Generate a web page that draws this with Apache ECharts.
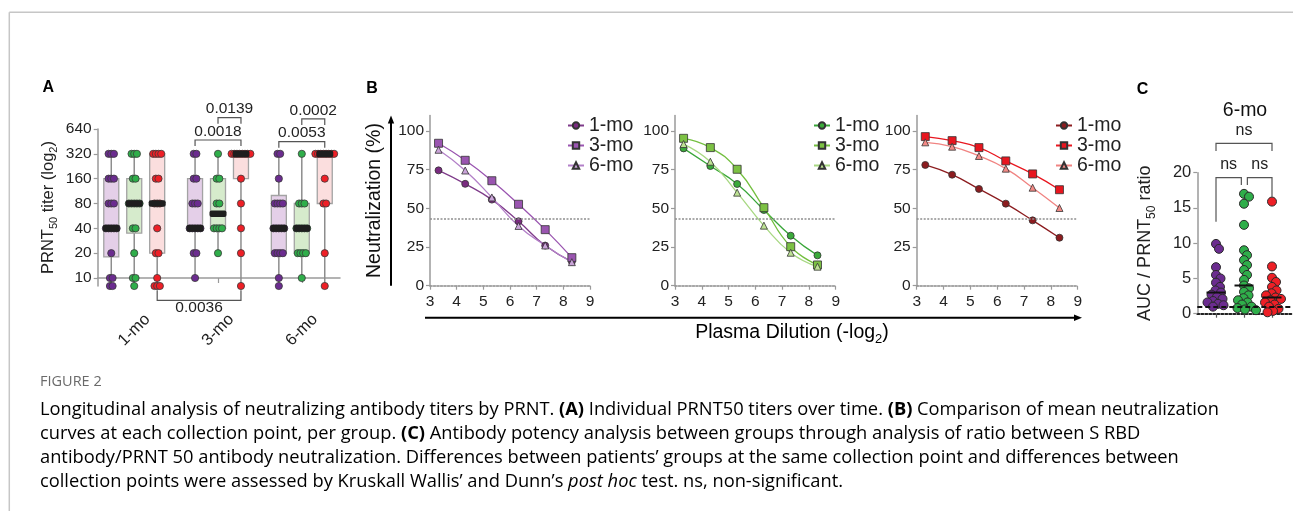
<!DOCTYPE html>
<html><head><meta charset="utf-8">
<script src="https://cdn.jsdelivr.net/npm/echarts@6/dist/echarts.min.js"></script>
<style>html,body{margin:0;padding:0;background:#fff}#c{width:1293px;height:511px}</style>
</head><body><div id="c"></div>
<script>
// ================= DATA =================
const timepoints = ['1-mo', '3-mo', '6-mo'];
const belowLimitTiter = 8;           // titers under detection, drawn on the axis
const titerTicks = [10, 20, 40, 80, 160, 320, 640];

// Panel A – individual PRNT50 titers, one array per collection point
const titersPurple = [
  [320,320,320,160,160,160,80,80,80,40,40,40,40,40,20,10,10,8,8],
  [320,320,160,160,80,80,80,40,40,40,40,40,20,20,10],
  [320,320,160,80,80,80,80,40,40,40,40,40,20,20,20,20,10,8]
];
const titersGreen = [
  [320,320,320,160,160,80,80,80,80,80,40,40,20,10,10,8],
  [320,160,160,80,80,40,40,40,40,20],
  [320,80,80,80,40,40,40,40,40,20,20,20,20,10]
];
const titersRed = [
  [320,320,320,320,160,160,80,80,80,40,20,20,10,8,8,8],
  [320,320,320,320,320,320,320,320,160,80,40,20,8],
  [320,320,320,320,320,320,320,320,160,80,80,20,8]
];
// Panel A – box statistics, order: 1-mo (P,G,R), 3-mo (P,G,R), 6-mo (P,G,R)
const whiskerMin = [8, 8, 8, 10, 20, 8, 8, 10, 8];
const boxQ1      = [18, 35, 20, 40, 40, 160, 20, 20, 80];
const boxMedian  = [40, 80, 80, 40, 60, 320, 40, 40, 320];
const boxQ3      = [160, 160, 320, 160, 160, 320, 100, 80, 320];
const whiskerMax = [320, 320, 320, 320, 320, 320, 320, 320, 320];
// Panel A – comparisons: [timepoint, group] -> [timepoint, group], p value
const compA = [[1,1,1,2], [1,0,1,2], [2,1,2,2], [2,0,2,2], [0,2,1,2]];
const pValuesA = ['0.0139', '0.0018', '0.0002', '0.0053', '0.0036'];

// Panel B – mean neutralization (%) vs plasma dilution (-log2)
const dilutions = [3.32, 4.32, 5.32, 6.32, 7.32, 8.32];
const neutPurple1 = [74.5, 65.8, 55.6, 41.6, 25.9, 15.6];
const neutPurple3 = [92.0, 81.0, 67.8, 52.6, 36.2, 18.1];
const neutPurple6 = [87.8, 74.4, 57.0, 38.6, 26.0, 15.2];
const neutGreen1  = [88.7, 77.3, 65.7, 48.9, 32.3, 19.6];
const neutGreen3  = [95.2, 89.2, 75.2, 50.4, 25.2, 13.4];
const neutGreen6  = [91.5, 80.1, 60.1, 38.8, 21.3, 12.3];
const neutRed1    = [78.0, 71.7, 62.5, 53.0, 42.2, 31.0];
const neutRed3    = [96.3, 93.7, 89.2, 80.6, 72.2, 62.0];
const neutRed6    = [92.6, 89.8, 83.8, 75.6, 63.3, 50.2];
const neutThreshold = 43.5;

// Panel C – AUC / PRNT50 ratio at 6-mo
const ratioPurple = [9.9, 9.2, 6.6, 5.5, 5.0, 4.4, 3.8, 3.3, 3.0, 2.7, 2.4, 2.1, 1.8, 1.6, 1.4, 1.2, 1.0];
const ratioGreen  = [17.0, 16.6, 15.6, 12.6, 9.0, 8.3, 7.6, 6.9, 6.2, 5.5, 4.8, 4.0, 3.6, 3.1, 2.6, 2.2, 1.9, 1.6, 1.3, 1.0, 0.8, 0.6, 0.5];
const ratioRed    = [15.9, 6.7, 5.1, 4.5, 3.8, 3.3, 2.9, 2.6, 2.3, 2.1, 1.9, 1.6, 1.3, 1.0, 0.7, 0.4, 0.2];
const ratioCutoff = 1.0;
const compC = [[0,2], [0,1], [1,2]];
const pValuesC = ['ns', 'ns', 'ns'];

// ================= STYLE / LAYOUT =================
const FONT = '"Liberation Sans", Arial, sans-serif';
const CAPFONT = '"Open Sans", Lato, sans-serif';
const dotColors = ['#6b2c8f', '#2fae4a', '#ee1f26'];
const boxFills  = ['#e4cfe8', '#d6ebcc', '#fbdede'];
const groupOffset = 0.274;     // x offset of each group inside a time point (axis units)
const rowStep = 0.032;         // spacing of tied dots (axis units)
const bracketLevelA = [6.456, 5.558, 6.404, 5.49, -0.898];
const bracketLegA   = [6, 6, 6, 6, -10];
const bracketLevelC = [24.17, 19.29, 19.29];
const bracketLegEndC = [[23.08, 23.08], [13.05, 18.26], [18.26, 16.41]];
const bracketEndAdjC = [[0, 0], [0, -0.095], [0.12, 0]];

const yA = v => Math.log2(v / 10);
const xA = (t, g) => t + 1 + (g - 1) * groupOffset;
const median = arr => { const s = [...arr].sort((a,b)=>a-b); const n=s.length; return n%2 ? s[(n-1)/2] : (s[n/2-1]+s[n/2])/2; };

function rowPoints(vals, xc) {
  const counts = {}, seen = {};
  vals.forEach(v => counts[v] = (counts[v] || 0) + 1);
  return vals.map(v => {
    const n = counts[v]; const i = (seen[v] = (seen[v] || 0) + 1) - 1;
    return [xc + (i - (n - 1) / 2) * rowStep, yA(v)];
  });
}

const chart = echarts.init(document.getElementById('c'), null, {renderer: 'canvas'});

const grids = [
  {left: 97.7, top: 129, width: 242.3, height: 157},
  {left: 430, top: 115.4, width: 160, height: 170.3},
  {left: 675, top: 115.4, width: 160.7, height: 170.3},
  {left: 916.7, top: 115.4, width: 161, height: 170.3},
  {left: 1197.3, top: 172.7, width: 95.7, height: 141}
].map(g => Object.assign({outerBoundsMode: 'none', containLabel: false}, g));

const grayAxis = {lineStyle: {color: '#9a9a9a', width: 1.5}};
const tickOut = {show: true, inside: false, length: 4, lineStyle: {color: '#9a9a9a', width: 1.2}};
const subRich = (fs) => ({
  n: {fontSize: fs, fontFamily: FONT, color: '#222', lineHeight: fs + 6},
  s: {fontSize: Math.round(fs * 0.68), fontFamily: FONT, color: '#222', verticalAlign: 'bottom', lineHeight: Math.round(fs * 0.68)}
});

const xAxes = [
  {gridIndex: 0, type: 'value', min: 0.564, max: 3.456, axisLine: grayAxis,
   axisTick: Object.assign({}, tickOut, {length: 5, customValues: [1, 2, 3]}),
   splitLine: {show: false},
   axisLabel: {customValues: [1, 2, 3], formatter: v => timepoints[Math.round(v) - 1], rotate: 45,
     align: 'center', verticalAlign: 'middle', margin: 44, fontSize: 16.5, fontFamily: FONT, color: '#222'}},
];
[1, 2, 3].forEach(i => xAxes.push({gridIndex: i, type: 'value', min: 3, max: 9, interval: 1,
  axisLine: {lineStyle: {color: '#8a8a8a', width: 1.6, type: [2, 1.5]}},
  axisTick: Object.assign({}, tickOut, {length: 4}), splitLine: {show: false},
  axisLabel: {margin: 8, fontSize: 15.5, fontFamily: FONT, color: '#222'}}));
xAxes.push({gridIndex: 4, type: 'value', min: 0.332, max: 3.75,
  axisLine: {lineStyle: {color: '#222', width: 2, type: [2, 2]}},
  axisTick: {show: true, customValues: [1, 2, 3], length: 4, lineStyle: {color: '#555', width: 1.2}},
  axisLabel: {show: false}, splitLine: {show: false}});

const yAxes = [
  {gridIndex: 0, type: 'value', min: yA(belowLimitTiter), max: 6, axisLine: Object.assign({show: true}, grayAxis),
   axisTick: Object.assign({}, tickOut, {customValues: titerTicks.map(yA)}), splitLine: {show: false},
   axisLabel: {customValues: titerTicks.map(yA), formatter: v => String(Math.round(10 * Math.pow(2, v))), margin: 6,
     fontSize: 15.5, fontFamily: FONT, color: '#222'},
   name: '{n|PRNT}{s|50}{n| titer (log}{s|2}{n|)}', nameLocation: 'middle', nameGap: 38, nameRotate: 90,
   nameTextStyle: {rich: subRich(16.5)}}
];
[1, 2, 3].forEach(i => yAxes.push({gridIndex: i, type: 'value', min: 0, max: 110,
  axisLine: Object.assign({show: true}, grayAxis),
  axisTick: Object.assign({}, tickOut, {customValues: [0, 25, 50, 75, 100]}), splitLine: {show: false},
  axisLabel: {customValues: [0, 25, 50, 75, 100], margin: 6, fontSize: 15.5, fontFamily: FONT, color: '#222'},
  name: i === 1 ? 'Neutralization (%)' : '', nameLocation: 'middle', nameGap: 45, nameRotate: 90,
  nameTextStyle: {fontSize: 19.5, fontFamily: FONT, color: '#111'}}));
yAxes.push({gridIndex: 4, type: 'value', min: 0, max: 20, interval: 5, axisLine: Object.assign({show: true}, grayAxis),
  axisTick: Object.assign({}, tickOut), splitLine: {show: false},
  axisLabel: {margin: 6, fontSize: 16.5, fontFamily: FONT, color: '#222'},
  name: '{n|AUC / PRNT}{s|50}{n| ratio}', nameLocation: 'middle', nameGap: 40, nameRotate: 90,
  nameTextStyle: {rich: subRich(18)}});

// ---------- Panel A series ----------
const series = [];
const boxData = [];
for (let t = 0; t < 3; t++) for (let g = 0; g < 3; g++) {
  const k = t * 3 + g;
  boxData.push([xA(t, g), yA(whiskerMin[k]), yA(boxQ1[k]), yA(boxMedian[k]), yA(boxQ3[k]), yA(whiskerMax[k]), g]);
}
series.push({
  type: 'custom', id: 'boxes', xAxisIndex: 0, yAxisIndex: 0, z: 1, silent: true, data: boxData,
  renderItem(params, api) {
    const x = api.value(0), g = api.value(6);
    const lo = api.coord([x, api.value(1)]), q1 = api.coord([x, api.value(2)]);
    const q3 = api.coord([x, api.value(4)]), hi = api.coord([x, api.value(5)]);
    const bw = 15;
    return {type: 'group', children: [
      {type: 'line', shape: {x1: lo[0], y1: lo[1], x2: hi[0], y2: hi[1]}, style: {stroke: '#8d8d8d', lineWidth: 1.5}},
      {type: 'rect', shape: {x: q3[0] - bw / 2, y: q3[1], width: bw, height: Math.max(q1[1] - q3[1], 0)},
       style: {fill: boxFills[g], stroke: '#a3a3a3', lineWidth: 1.3}}
    ]};
  }
});
[titersPurple, titersGreen, titersRed].forEach((arr, g) => {
  const pts = [];
  arr.forEach((vals, t) => rowPoints(vals, xA(t, g)).forEach(p => pts.push(p)));
  series.push({type: 'scatter', xAxisIndex: 0, yAxisIndex: 0, z: 3, clip: false, silent: true,
    symbolSize: 7.2, data: pts, itemStyle: {color: dotColors[g], borderColor: '#3a3a3a', borderWidth: 0.8, opacity: 1}});
});
series.push({
  type: 'custom', xAxisIndex: 0, yAxisIndex: 0, z: 4, silent: true,
  data: boxData.map(d => [d[0], d[3]]),
  renderItem(params, api) {
    const p = api.coord([api.value(0), api.value(1)]);
    return {type: 'rect', shape: {x: p[0] - 8.5, y: p[1] - 3.3, width: 17, height: 6.6, r: 2}, style: {fill: '#1e1e1e'}};
  }
});
series.push({
  type: 'custom', xAxisIndex: 0, yAxisIndex: 0, z: 5, silent: true, clip: false,
  data: compA.map((c, i) => [xA(c[0], c[1]), xA(c[2], c[3]), bracketLevelA[i], bracketLegA[i]]),
  renderItem(params, api) {
    const a = api.coord([api.value(0), api.value(2)]), b = api.coord([api.value(1), api.value(2)]);
    const leg = api.value(3), above = leg > 0;
    return {type: 'group', children: [
      {type: 'polyline', shape: {points: [[a[0], a[1] + leg], [a[0], a[1]], [b[0], b[1]], [b[0], b[1] + leg]]},
       style: {stroke: '#555', lineWidth: 1.2, fill: null}},
      {type: 'text', style: {text: pValuesA[params.dataIndex], x: (a[0] + b[0]) / 2, y: above ? a[1] - 8.5 : a[1] + 7.5,
        align: 'center', verticalAlign: 'middle', fontSize: 15.5, fontFamily: FONT, fill: '#222'}}
    ]};
  }
});

// ---------- Panel B series ----------
function bLine(gi, name, vals, symbol, size, fill, line) {
  return {type: 'line', name: 'B' + gi + '|' + name, xAxisIndex: gi, yAxisIndex: gi, z: 3,
    data: dilutions.map((d, i) => [d, vals[i]]), smooth: 0.5,
    symbol, symbolSize: size, showAllSymbol: true,
    itemStyle: {color: fill, borderColor: '#333', borderWidth: 0.8},
    lineStyle: {color: line, width: 1.3}, emphasis: {disabled: true}};
}
const thr = gi => ({type: 'line', xAxisIndex: gi, yAxisIndex: gi, data: [], silent: true,
  markLine: {silent: true, symbol: 'none', label: {show: false}, animation: false,
    lineStyle: {color: '#8f8f8f', type: [2, 1.5], width: 1.5}, data: [{yAxis: neutThreshold}]}});
series.push(thr(1), thr(2), thr(3));
series.push(
  bLine(1, '1-mo', neutPurple1, 'circle', 7, '#7a2b80', '#7f3b8a'),
  bLine(1, '3-mo', neutPurple3, 'rect', 8, '#9a55b0', '#9a55b0'),
  bLine(1, '6-mo', neutPurple6, 'triangle', 7, '#c9a3d8', '#b380c8'),
  bLine(2, '1-mo', neutGreen1, 'circle', 7, '#3aaa3a', '#39a639'),
  bLine(2, '3-mo', neutGreen3, 'rect', 8, '#7cc143', '#73bf3f'),
  bLine(2, '6-mo', neutGreen6, 'triangle', 7, '#bde293', '#a8d883'),
  bLine(3, '1-mo', neutRed1, 'circle', 7, '#8c1c1f', '#8c1c1f'),
  bLine(3, '3-mo', neutRed3, 'rect', 8, '#e8161f', '#e8161f'),
  bLine(3, '6-mo', neutRed6, 'triangle', 7, '#f38a86', '#f08482')
);

// ---------- Panel C series ----------
const ratios = [ratioPurple, ratioGreen, ratioRed];
ratios.forEach((vals, g) => series.push({type: 'scatter', id: 'swarm' + g, xAxisIndex: 4, yAxisIndex: 4, z: 3,
  clip: false, silent: true, symbolSize: 9, data: vals.map(v => [g + 1, v]),
  itemStyle: {color: dotColors[g], borderColor: '#2a2a2a', borderWidth: 1, opacity: 1}}));
series.push({type: 'custom', xAxisIndex: 4, yAxisIndex: 4, z: 4, silent: true,
  data: ratios.map((vals, g) => [g + 1, median(vals)]),
  renderItem(params, api) {
    const p = api.coord([api.value(0), api.value(1)]);
    return {type: 'line', shape: {x1: p[0] - 9.5, y1: p[1], x2: p[0] + 9.5, y2: p[1]}, style: {stroke: '#111', lineWidth: 2}};
  }});
series.push({type: 'line', xAxisIndex: 4, yAxisIndex: 4, data: [], silent: true,
  markLine: {silent: true, symbol: 'none', label: {show: false}, animation: false,
    lineStyle: {color: '#111', type: [5, 3], width: 2}, data: [{yAxis: ratioCutoff}]}});
series.push({type: 'custom', xAxisIndex: 4, yAxisIndex: 4, z: 5, silent: true, clip: false,
  data: compC.map((c, i) => [c[0] + 1 + bracketEndAdjC[i][0], c[1] + 1 + bracketEndAdjC[i][1], bracketLevelC[i], bracketLegEndC[i][0], bracketLegEndC[i][1]]),
  renderItem(params, api) {
    const a = api.coord([api.value(0), api.value(2)]), b = api.coord([api.value(1), api.value(2)]);
    const la = api.coord([api.value(0), api.value(3)]), lb = api.coord([api.value(1), api.value(4)]);
    return {type: 'group', children: [
      {type: 'polyline', shape: {points: [[la[0], la[1]], [a[0], a[1]], [b[0], b[1]], [lb[0], lb[1]]]},
       style: {stroke: '#555', lineWidth: 1.2, fill: null}},
      {type: 'text', style: {text: pValuesC[params.dataIndex], x: (a[0] + b[0]) / 2, y: a[1] - 13,
        align: 'center', verticalAlign: 'middle', fontSize: 16, fontFamily: FONT, fill: '#222'}}
    ]};
  }});

// ---------- legends ----------
const legend = [[1, 567], [2, 813], [3, 1055]].map(([gi, left]) => ({
  left, top: 115.5, padding: 0, orient: 'vertical', itemGap: 0, itemWidth: 16, itemHeight: 8,
  data: ['1-mo', '3-mo', '6-mo'].map(n => 'B' + gi + '|' + n),
  formatter: n => n.split('|')[1], selectedMode: false,
  textStyle: {fontSize: 19.5, fontFamily: FONT, color: '#222'}
}));

// ---------- decorations & text ----------
const capRich = {
  n: {fontSize: 18.3, fontFamily: CAPFONT, color: '#727272'},
  b: {fontSize: 18.3, fontFamily: CAPFONT, color: '#727272', fontWeight: 'bold'},
  i: {fontSize: 18.3, fontFamily: CAPFONT, color: '#727272', fontStyle: 'italic'}
};
const captionLines = [
  '{n|Longitudinal analysis of neutralizing antibody titers by PRNT. }{b|(A)}{n| Individual PRNT50 titers over time. }{b|(B)}{n| Comparison of mean neutralization}',
  '{n|curves at each collection point, per group. }{b|(C)}{n| Antibody potency analysis between groups through analysis of ratio between S RBD}',
  '{n|antibody/PRNT 50 antibody neutralization. Differences between patients\u2019 groups at the same collection point and differences between}',
  '{n|collection points were assessed by Kruskall Wallis\u2019 and Dunn\u2019s }{i|post hoc}{n| test. ns, non-significant.}'
];
const graphic = [
  {type: 'line', shape: {x1: 9.3, y1: 12.3, x2: 1293, y2: 12.3}, style: {stroke: '#c6c6c6', lineWidth: 1.5}},
  {type: 'line', shape: {x1: 9.3, y1: 12.3, x2: 9.3, y2: 511}, style: {stroke: '#c6c6c6', lineWidth: 1.5}},
  // axis arrows of panel B
  {type: 'line', shape: {x1: 391, y1: 285.7, x2: 391, y2: 122}, style: {stroke: '#000', lineWidth: 2}},
  {type: 'polygon', shape: {points: [[391, 115.5], [387.8, 123.5], [394.2, 123.5]]}, style: {fill: '#000'}},
  {type: 'line', shape: {x1: 425, y1: 317.7, x2: 1075, y2: 317.7}, style: {stroke: '#000', lineWidth: 2}},
  {type: 'polygon', shape: {points: [[1082, 317.7], [1074, 314.5], [1074, 320.9]]}, style: {fill: '#000'}},
  {type: 'text', x: 792, y: 333, style: {text: '{n|Plasma Dilution (-log}{s|2}{n|)}', align: 'center', verticalAlign: 'middle',
    rich: {n: {fontSize: 19.5, fontFamily: FONT, color: '#111', lineHeight: 26}, s: {fontSize: 13, fontFamily: FONT, color: '#111', verticalAlign: 'bottom', lineHeight: 13}}}},
  // panel letters
  {type: 'text', x: 48.3, y: 88, style: {text: 'A', align: 'center', verticalAlign: 'middle', fontSize: 16, fontWeight: 'bold', fontFamily: FONT, fill: '#000'}},
  {type: 'text', x: 372, y: 89, style: {text: 'B', align: 'center', verticalAlign: 'middle', fontSize: 16, fontWeight: 'bold', fontFamily: FONT, fill: '#000'}},
  {type: 'text', x: 1142.5, y: 89.5, style: {text: 'C', align: 'center', verticalAlign: 'middle', fontSize: 16, fontWeight: 'bold', fontFamily: FONT, fill: '#000'}},
  {type: 'text', x: 1245, y: 111, style: {text: '6-mo', align: 'center', verticalAlign: 'middle', fontSize: 19.5, fontFamily: FONT, fill: '#111'}},
  // caption
  {type: 'text', x: 40, y: 382, style: {text: 'FIGURE 2', verticalAlign: 'middle', fontSize: 14.5, fontFamily: CAPFONT, fill: '#6a6a6a'}},
].concat(captionLines.map((t, i) => ({type: 'text', x: 40, y: 410 + 24 * i,
  style: {text: t, verticalAlign: 'middle', rich: capRich}})));

chart.setOption({
  animation: false,
  backgroundColor: '#fff',
  textStyle: {fontFamily: FONT},
  grid: grids, xAxis: xAxes, yAxis: yAxes, legend, series, graphic
});

// beeswarm placement of panel C dots (deterministic)
function swarm(vals, g) {
  const cx = chart.convertToPixel({gridIndex: 4}, [g + 1, 0])[0];
  const order = vals.map((v, i) => ({v, i, py: chart.convertToPixel({gridIndex: 4}, [g + 1, v])[1]}))
    .sort((a, b) => b.v - a.v);
  const placed = [];
  const out = new Array(vals.length);
  order.forEach(p => {
    let px = cx;
    for (let k = 0; k < 200; k++) {
      const off = (k === 0 ? 0 : (k % 2 ? 1 : -1) * Math.ceil(k / 2) * 0.5);
      if (placed.every(q => Math.hypot(q[0] - (cx + off), q[1] - p.py) >= 5.6)) { px = cx + off; break; }
    }
    placed.push([px, p.py]);
    out[p.i] = [chart.convertFromPixel({gridIndex: 4}, [px, p.py])[0], p.v];
  });
  return out;
}
chart.setOption({series: ratios.map((vals, g) => ({id: 'swarm' + g, data: swarm(vals, g)}))});
</script></body></html>
